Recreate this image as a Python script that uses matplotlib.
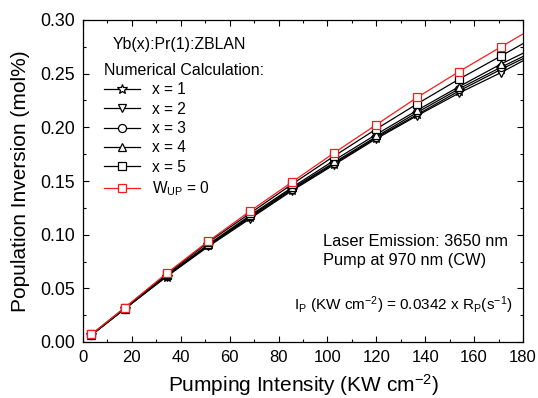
import matplotlib
matplotlib.use("Agg")
import matplotlib.pyplot as plt
import numpy as np

plt.rcParams['font.family'] = ['Liberation Sans', 'DejaVu Sans']
plt.rcParams['mathtext.fontset'] = 'custom'
plt.rcParams['mathtext.rm'] = 'Liberation Sans'
plt.rcParams['mathtext.it'] = 'Liberation Sans:italic'
plt.rcParams['mathtext.bf'] = 'Liberation Sans:bold'

# pump intensity (KW cm^-2); last value is the curve end at the axis edge (no marker)
intensity = [3.42, 17.1, 34.2, 51.3, 68.4, 85.5, 102.6, 119.7, 136.8, 153.9, 171.0, 180.0]

inv_x1 = [0.0065, 0.031, 0.061, 0.090, 0.116, 0.142, 0.166, 0.190, 0.212, 0.234, 0.254, 0.264]
inv_x2 = [0.0065, 0.031, 0.061, 0.089, 0.115, 0.141, 0.165, 0.189, 0.211, 0.232, 0.251, 0.262]
inv_x3 = [0.0065, 0.031, 0.062, 0.090, 0.117, 0.143, 0.167, 0.191, 0.214, 0.236, 0.256, 0.266]
inv_x4 = [0.0065, 0.031, 0.062, 0.091, 0.118, 0.144, 0.169, 0.193, 0.216, 0.238, 0.259, 0.269]
inv_x5 = [0.007, 0.032, 0.063, 0.093, 0.120, 0.147, 0.173, 0.198, 0.222, 0.245, 0.2665, 0.278]
inv_wup0 = [0.007, 0.032, 0.064, 0.094, 0.122, 0.149, 0.176, 0.202, 0.228, 0.252, 0.275, 0.287]

series = [
    ('x = 1', inv_x1, '*', 'black'),
    ('x = 2', inv_x2, 'v', 'black'),
    ('x = 3', inv_x3, 'o', 'black'),
    ('x = 4', inv_x4, '^', 'black'),
    ('x = 5', inv_x5, 's', 'black'),
    ('W$_{\\mathrm{UP}}$ = 0', inv_wup0, 's', '#ff1a1a'),
]

W, H = 538, 398
fig = plt.figure(figsize=(W/100, H/100), dpi=100)
ax = fig.add_axes([83/W, (H-342)/H, 440/W, 322/H])

n_mark = len(intensity) - 1
for label, vals, mk, col in series:
    ms = 7.5 if mk == '*' else 5.8
    ax.plot(intensity, vals, color=col, lw=0.9, marker=mk, markersize=ms,
            markerfacecolor='white', markeredgecolor=col, markeredgewidth=0.9,
            markevery=list(range(n_mark)), label=label)

ax.set_xlim(0, 180)
ax.set_ylim(0, 0.30)
ax.set_xticks(np.arange(0, 181, 20))
yt = np.arange(0, 0.301, 0.05)
ax.set_yticks(yt)
ax.set_yticklabels([f'{v:.2f}' for v in yt])
ax.set_xticks(np.arange(10, 180, 20), minor=True)
ax.set_yticks(np.arange(0.025, 0.3, 0.05), minor=True)
ax.tick_params(which='both', direction='in', top=True, right=True)
ax.tick_params(which='major', length=4.5, width=0.8)
ax.tick_params(which='minor', length=2.5, width=0.8)
ax.tick_params(axis='x', labelsize=12, pad=6)
ax.tick_params(axis='y', labelsize=12.8, pad=6)
for sp in ax.spines.values():
    sp.set_linewidth(0.9)

ax.set_xlabel('Pumping Intensity (KW cm$^{-2}$)', fontsize=15, labelpad=5)
ax.set_ylabel('Population Inversion (mol%)', fontsize=15, labelpad=7)

fig.text(113/W, (H-45)/H, 'Yb(x):Pr(1):ZBLAN', fontsize=11.4, va='center', ha='left')

leg = ax.legend(loc='upper left', bbox_to_anchor=((104-83)/440, (342-63)/322),
                frameon=False, title='Numerical Calculation:', alignment='left',
                fontsize=11.2, title_fontsize=11.5, handlelength=2.3,
                handletextpad=0.8, labelspacing=0.28, borderpad=0.0,
                borderaxespad=0)

fig.text(323/W, (H-241)/H, 'Laser Emission: 3650 nm', fontsize=11.8, va='center')
fig.text(323/W, (H-261)/H, 'Pump at 970 nm (CW)', fontsize=11.8, va='center')
fig.text(294/W, (H-305)/H,
         'I$_\\mathrm{P}$ (KW cm$^{-2}$) = 0.0342 x R$_\\mathrm{P}$(s$^{-1}$)',
         fontsize=11, va='center')

fig.savefig('out.png', dpi=100)
